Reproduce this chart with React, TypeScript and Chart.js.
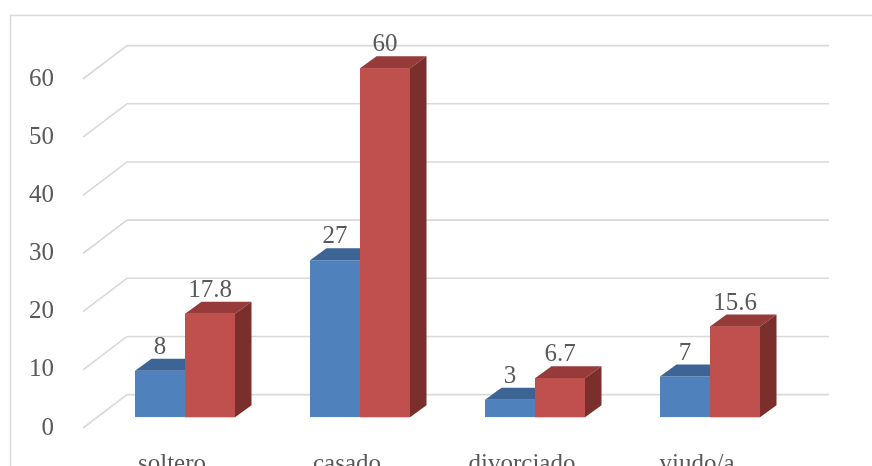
import React, { useEffect, useRef } from "react";
import { Chart, registerables } from "chart.js";

Chart.register(...registerables);

const categories = ["soltero", "casado", "divorciado", "viudo/a"];
const seriesBlue = [8, 27, 3, 7];
const seriesRed = [17.8, 60, 6.7, 15.6];
const yTickValues = [0, 10, 20, 30, 40, 50, 60];

const FONT = "'Liberation Serif', 'Times New Roman', serif";
const TEXT = "#595959";
const GRID = "#D9D9D9";
const DEPTH_X = 16.5;
const DEPTH_Y = -12;
const WALL_FRONT_X = 83;
const WALL_BACK_X = 127;
const WALL_RIGHT_X = 829;
const BACK_OFF = -22.7;
const FRONT_OFF = 10.7;

const frontColors = ["#4F81BD", "#C0504D"];
const topColors = ["#3C6595", "#963B39"];
const sideColors = ["#375C88", "#7B2F2D"];

const threeD = {
  id: "threeD",
  beforeDraw(chart: any) {
    const ctx = chart.ctx;
    ctx.save();
    ctx.fillStyle = "#ffffff";
    ctx.fillRect(0, 0, chart.width, chart.height);
    ctx.strokeStyle = GRID;
    ctx.lineWidth = 1.5;
    ctx.strokeRect(10.5, 15.5, chart.width + 50, chart.height + 50);
    ctx.restore();
  },
  beforeDatasetsDraw(chart: any) {
    const ctx = chart.ctx;
    const y = chart.scales.y;
    ctx.save();
    ctx.strokeStyle = GRID;
    ctx.lineWidth = 1.6;
    yTickValues.forEach((v) => {
      const p = y.getPixelForValue(v);
      ctx.beginPath();
      ctx.moveTo(WALL_FRONT_X, p + FRONT_OFF);
      ctx.lineTo(WALL_BACK_X, p + BACK_OFF);
      ctx.lineTo(WALL_RIGHT_X, p + BACK_OFF);
      ctx.stroke();
    });
    ctx.restore();
  },
  afterDatasetsDraw(chart: any) {
    const ctx = chart.ctx;
    ctx.save();
    const labelsToDraw: { x: number; y: number; t: string }[] = [];
    categories.forEach((_, i) => {
      [0, 1].forEach((d) => {
        const el = chart.getDatasetMeta(d).data[i];
        if (!el) return;
        const { x, y, base, width } = el.getProps(["x", "y", "base", "width"], true);
        const x0 = x - width / 2;
        const x1 = x + width / 2;
        if (d === 1) el.draw(ctx);
        ctx.fillStyle = topColors[d];
        ctx.beginPath();
        ctx.moveTo(x0, y);
        ctx.lineTo(x1, y);
        ctx.lineTo(x1 + DEPTH_X, y + DEPTH_Y);
        ctx.lineTo(x0 + DEPTH_X, y + DEPTH_Y);
        ctx.closePath();
        ctx.fill();
        ctx.fillStyle = sideColors[d];
        ctx.beginPath();
        ctx.moveTo(x1, y);
        ctx.lineTo(x1 + DEPTH_X, y + DEPTH_Y);
        ctx.lineTo(x1 + DEPTH_X, base + DEPTH_Y);
        ctx.lineTo(x1, base);
        ctx.closePath();
        ctx.fill();
        const val = chart.data.datasets[d].data[i];
        labelsToDraw.push({ x, y: y - 17, t: String(val) });
      });
    });
    ctx.fillStyle = TEXT;
    ctx.font = `25px ${FONT}`;
    ctx.textAlign = "center";
    ctx.textBaseline = "alphabetic";
    labelsToDraw.forEach((l) => ctx.fillText(l.t, l.x, l.y));
    ctx.restore();
  },
};

export default function App() {
  const ref = useRef<HTMLCanvasElement | null>(null);
  useEffect(() => {
    if (!ref.current) return;
    const chart = new Chart(ref.current, {
      type: "bar",
      data: {
        labels: categories,
        datasets: [
          { data: seriesBlue, backgroundColor: frontColors[0], borderWidth: 0 },
          { data: seriesRed, backgroundColor: frontColors[1], borderWidth: 0 },
        ],
      },
      options: {
        animation: false,
        responsive: false,
        layout: { padding: { left: 0, top: 68.3, right: 74.5, bottom: 0 } },
        plugins: { legend: { display: false }, tooltip: { enabled: false } },
        datasets: { bar: { categoryPercentage: 100 / 175, barPercentage: 1 } },
        scales: {
          x: {
            grid: { display: false },
            border: { display: false },
            ticks: {
              font: { family: FONT, size: 25, lineHeight: 1.2 },
              color: TEXT,
              labelOffset: -13,
              padding: 24.5,
              maxRotation: 0,
              autoSkip: false,
            },
            afterFit: (s: any) => {
              s.height = 48.7;
            },
          },
          y: {
            min: 0,
            max: 60,
            grid: { display: false },
            border: { display: false },
            ticks: {
              stepSize: 10,
              font: { family: FONT, size: 25, lineHeight: 1.0 },
              color: TEXT,
              padding: 35.5,
              labelOffset: FRONT_OFF,
            },
            afterFit: (s: any) => {
              s.width = 97.5;
            },
          },
        },
      } as any,
      plugins: [threeD],
    });
    return () => chart.destroy();
  }, []);
  return (
    <div style={{ position: "absolute", left: 0, top: 0, width: 872, height: 466, overflow: "hidden" }}>
      <canvas ref={ref} width={872} height={466} style={{ display: "block" }} />
    </div>
  );
}
